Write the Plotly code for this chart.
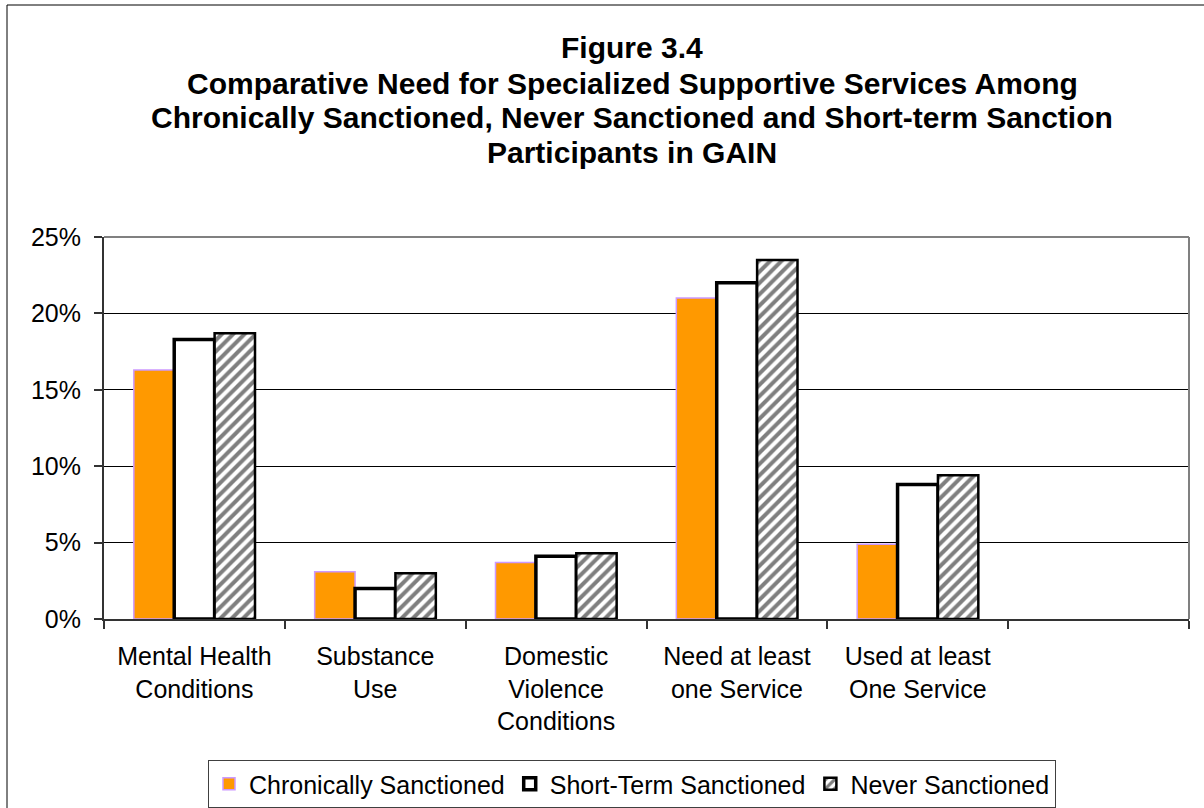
import plotly.graph_objects as go

# Categories (the last slot is left empty on purpose)
categories = [
    "Mental Health<br>Conditions",
    "Substance<br>Use",
    "Domestic<br>Violence<br>Conditions",
    "Need at least<br>one Service",
    "Used at least<br>One Service",
    " ",
]

# Percent of participants in each group
chronically_sanctioned = [16.3, 3.1, 3.7, 21.0, 4.9, None]
short_term_sanctioned = [18.3, 2.0, 4.1, 22.0, 8.8, None]
never_sanctioned = [18.7, 3.0, 4.3, 23.5, 9.4, None]

series_names = ["Chronically Sanctioned", "Short-Term Sanctioned", "Never Sanctioned"]

title_lines = [
    "Figure 3.4",
    "Comparative Need for Specialized Supportive Services Among",
    "Chronically Sanctioned, Never Sanctioned and Short-term Sanction",
    "Participants in GAIN",
]

FONT = "Liberation Sans, Arial, sans-serif"

# Page and plot-area geometry (pixels)
W, H = 1204, 808
L, R, T, B = 104, 1189, 237, 619


def fx(px):
    return (px - L) / (R - L)


def fy(py):
    return (B - py) / (B - T)


fig = go.Figure()

fig.add_trace(go.Bar(
    name=series_names[0], x=categories, y=chronically_sanctioned,
    marker=dict(color="#FF9900", line=dict(color="#CC99FF", width=1.5)),
))
fig.add_trace(go.Bar(
    name=series_names[1], x=categories, y=short_term_sanctioned,
    marker=dict(color="#FFFFFF", line=dict(color="#000000", width=3.5)),
))
fig.add_trace(go.Bar(
    name=series_names[2], x=categories, y=never_sanctioned,
    marker=dict(
        color="#FFFFFF",
        line=dict(color="#000000", width=2.5),
        pattern=dict(shape="/", fgcolor="#000000", bgcolor="#FFFFFF",
                     size=8, solidity=0.5),
    ),
))

# Title, one annotation per line
title_centers = [48, 83, 117.5, 152]
annotations = []
for text, cy in zip(title_lines, title_centers):
    annotations.append(dict(
        text="<b>%s</b>" % text, x=fx(632), y=fy(cy), xref="paper", yref="paper",
        xanchor="center", yanchor="middle", showarrow=False,
        font=dict(family=FONT, size=30, color="#000000"),
    ))

shapes = [
    # chart border
    dict(type="rect", xref="paper", yref="paper",
         x0=fx(7), x1=fx(1300), y0=fy(5), y1=fy(900),
         line=dict(color="#000000", width=1), layer="above"),
    # plot-area frame (top and right)
    dict(type="line", xref="paper", yref="paper", x0=0, x1=1, y0=1, y1=1,
         line=dict(color="#808080", width=2), layer="above"),
    dict(type="line", xref="paper", yref="paper", x0=1, x1=1, y0=0, y1=1,
         line=dict(color="#808080", width=2), layer="above"),
]

fig.update_layout(
    width=W, height=H,
    margin=dict(l=L, r=W - R, t=T, b=H - B, pad=0, autoexpand=False),
    paper_bgcolor="#FFFFFF", plot_bgcolor="#FFFFFF",
    font=dict(family=FONT, size=25, color="#000000"),
    barmode="group", bargap=0.33, bargroupgap=0,
    showlegend=True,
    legend=dict(
        orientation="h", x=fx(632), y=fy(784), xanchor="center", yanchor="middle",
        xref="paper", yref="paper",
        bgcolor="#FFFFFF", bordercolor="#404040", borderwidth=1,
        font=dict(family=FONT, size=25, color="#000000"),
        traceorder="normal",
    ),
    annotations=annotations,
    shapes=shapes,
)

fig.update_xaxes(
    type="category", categoryorder="array", categoryarray=categories,
    showline=True, linecolor="#333333", linewidth=2,
    ticks="outside", tickson="boundaries", ticklen=8, tickcolor="#333333", tickwidth=1.5,
    showgrid=False, tickfont=dict(family=FONT, size=25, color="#000000"),
    ticklabelstandoff=14,
)
fig.update_yaxes(
    range=[0, 25], dtick=5, ticksuffix="%",
    showline=True, linecolor="#333333", linewidth=2,
    ticks="outside", ticklen=8, tickcolor="#333333", tickwidth=1.5,
    showgrid=True, gridcolor="#000000", gridwidth=1, zeroline=False,
    tickfont=dict(family=FONT, size=25, color="#000000"),
    ticklabelstandoff=8,
)

fig.write_html("out.html")
